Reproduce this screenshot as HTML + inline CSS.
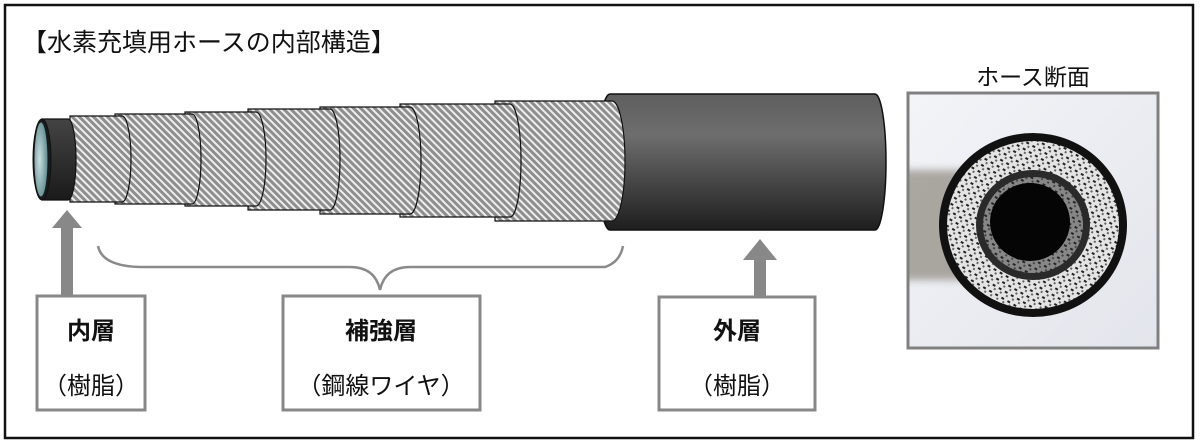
<!DOCTYPE html>
<html><head><meta charset="utf-8">
<style>
html,body{margin:0;padding:0;background:#fff;}
svg{display:block;}
text{font-family:"Liberation Sans","Noto Sans CJK JP",sans-serif;fill:#111;}
</style></head>
<body>
<svg width="1200" height="446" viewBox="0 0 1200 446" xmlns="http://www.w3.org/2000/svg">
<defs>
<pattern id="hatch" width="5" height="5" patternUnits="userSpaceOnUse" patternTransform="rotate(-45)">
<rect width="5" height="5" fill="#8e8e8e"/>
<rect width="2" height="5" fill="#eeeeee"/>
</pattern>
<linearGradient id="outer" x1="0" y1="0" x2="0" y2="1">
<stop offset="0" stop-color="#5e5e5e"/>
<stop offset="0.3" stop-color="#6e6e6e"/>
<stop offset="1" stop-color="#1e1e1e"/>
</linearGradient>
<linearGradient id="inner" x1="0" y1="0" x2="0" y2="1">
<stop offset="0" stop-color="#444"/>
<stop offset="1" stop-color="#1a1a1a"/>
</linearGradient>
<radialGradient id="bore" cx="0.4" cy="0.5" r="0.6">
<stop offset="0" stop-color="#c9e0e0"/>
<stop offset="1" stop-color="#5f8d91"/>
</radialGradient>
<pattern id="braid" width="7" height="7" patternUnits="userSpaceOnUse" patternTransform="rotate(30)">
<rect width="7" height="7" fill="#e4e4e4"/>
<rect x="1" y="1" width="3" height="2" fill="#222"/>
<rect x="4" y="4" width="2" height="2" fill="#666"/>
</pattern>
<linearGradient id="bg" x1="0" y1="0" x2="1" y2="1">
<stop offset="0" stop-color="#f3f4f8"/>
<stop offset="1" stop-color="#e3e5ec"/>
</linearGradient>
<filter id="blur"><feGaussianBlur stdDeviation="4"/></filter>
</defs>

<rect x="5" y="5" width="1188" height="433" fill="#fff" stroke="#111" stroke-width="2.5"/>
<text x="22" y="51" font-size="25">【水素充填用ホースの内部構造】</text>

<!-- outer cover -->
<path d="M610,94 L875,94 A11,68 0 0 1 875,230 L610,230 A12,68 0 0 1 610,94 Z" fill="url(#outer)" stroke="#111" stroke-width="1.5"/>

<path d="M495,101 L612,101 A13,60 0 0 1 612,221 L495,221 Z" fill="url(#hatch)" stroke="#111" stroke-width="1.2"/>
<path d="M400,104 L510,104 A11,56.5 0 0 1 510,217 L400,217 Z" fill="url(#hatch)" stroke="#111" stroke-width="1.2"/>
<path d="M320,107 L410,107 A11,53.5 0 0 1 410,214 L320,214 Z" fill="url(#hatch)" stroke="#111" stroke-width="1.2"/>
<path d="M248,109 L330,109 A10,50.5 0 0 1 330,210 L248,210 Z" fill="url(#hatch)" stroke="#111" stroke-width="1.2"/>
<path d="M185,112 L256,112 A10,47 0 0 1 256,206 L185,206 Z" fill="url(#hatch)" stroke="#111" stroke-width="1.2"/>
<path d="M115,114 L192,114 A9,45 0 0 1 192,204 L115,204 Z" fill="url(#hatch)" stroke="#111" stroke-width="1.2"/>
<path d="M70,116 L122,116 A9,43 0 0 1 122,202 L70,202 Z" fill="url(#hatch)" stroke="#111" stroke-width="1.2"/>
<path d="M42,119 L68,119 A8,40.5 0 0 1 68,200 L42,200 Z" fill="url(#inner)" stroke="#111" stroke-width="1.2"/>
<ellipse cx="42" cy="159.5" rx="9" ry="40.5" fill="#1a1a1a" stroke="#111"/>
<ellipse cx="41" cy="159.5" rx="6.5" ry="37" fill="url(#bore)"/>

<rect x="61" y="226" width="12" height="70" fill="#888"/>
<polygon points="52,228 82,228 67,210" fill="#888"/>
<rect x="754" y="258" width="12" height="40" fill="#888"/>
<polygon points="743,260 777,260 760,239" fill="#888"/>

<path d="M98,246 Q102,266 140,267 L350,267 Q375,267 380,290 Q385,267 410,267 L605,267 Q620,262 623,246" fill="none" stroke="#8a8a8a" stroke-width="2.5"/>

<rect x="37" y="296" width="108" height="114" fill="#fff" stroke="#888" stroke-width="3"/>
<text x="91" y="339" font-size="24" font-weight="bold" text-anchor="middle">内層</text>
<text x="91" y="394" font-size="24" text-anchor="middle">（樹脂）</text>

<rect x="283" y="296" width="197" height="114" fill="#fff" stroke="#888" stroke-width="3"/>
<text x="381" y="339" font-size="24" font-weight="bold" text-anchor="middle">補強層</text>
<text x="381" y="394" font-size="24" text-anchor="middle">（鋼線ワイヤ）</text>

<rect x="659" y="297" width="156" height="113" fill="#fff" stroke="#888" stroke-width="3"/>
<text x="737" y="339" font-size="24" font-weight="bold" text-anchor="middle">外層</text>
<text x="737" y="394" font-size="24" text-anchor="middle">（樹脂）</text>

<text x="1033" y="85" font-size="23" text-anchor="middle">ホース断面</text>
<svg x="908" y="93" width="250" height="255" viewBox="908 93 250 255">
<rect x="908" y="93" width="250" height="255" fill="url(#bg)"/>
<rect x="900" y="170" width="70" height="110" fill="#7c7468" opacity="0.6" filter="url(#blur)"/>
<ellipse cx="1033" cy="225" rx="94" ry="92" fill="#111"/>
<ellipse cx="1033" cy="225" rx="86" ry="84" fill="url(#braid)"/>
<ellipse cx="1033" cy="225" rx="57" ry="55" fill="#2a2a2a"/>
<ellipse cx="1033" cy="225" rx="50" ry="48" fill="url(#braid)" opacity="0.5"/>
<ellipse cx="1030" cy="222" rx="40" ry="39" fill="#050505"/>
</svg>
<rect x="908" y="93" width="250" height="255" fill="none" stroke="#808080" stroke-width="3"/>
</svg>
</body></html>
